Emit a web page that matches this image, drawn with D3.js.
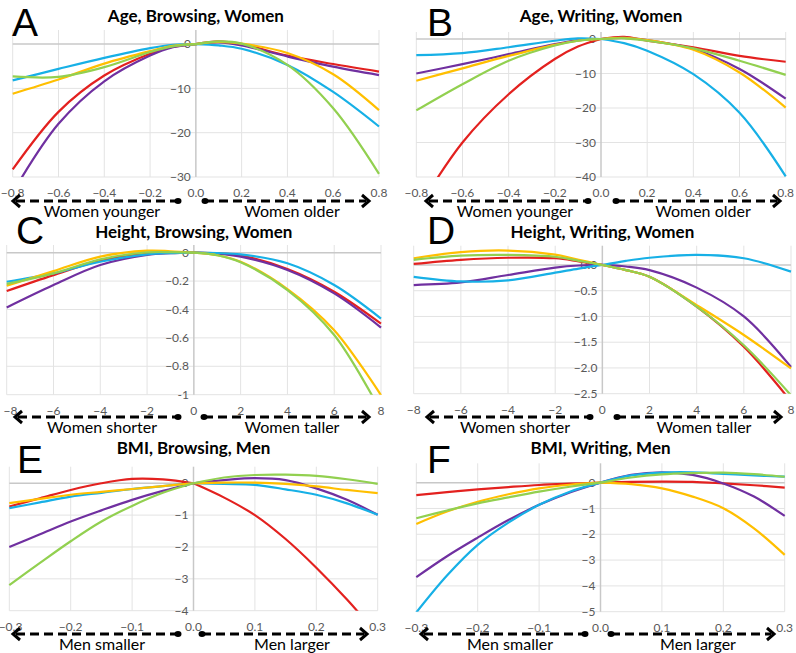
<!DOCTYPE html>
<html><head><meta charset="utf-8">
<script src="https://cdn.jsdelivr.net/npm/d3@7"></script>
<style>
html,body{margin:0;padding:0;background:#fff;}
svg{display:block;}
</style></head>
<body>
<svg id="chart" width="796" height="653"></svg>
<script>
// ---------- DATA ----------
const seriesColors = ["#e3211f", "#7030a0", "#17b0e6", "#ffbf00", "#92d050"]; // red, purple, blue, yellow, green

const panelLetters = ["A", "B", "C", "D", "E", "F"];
const panelTitles = ["Age, Browsing, Women", "Age, Writing, Women", "Height, Browsing, Women",
                     "Height, Writing, Women", "BMI, Browsing, Men", "BMI, Writing, Men"];
const leftLabels = ["Women younger", "Women younger", "Women shorter", "Women shorter", "Men smaller", "Men smaller"];
const rightLabels = ["Women older", "Women older", "Women taller", "Women taller", "Men larger", "Men larger"];

const xTicksAge = [-0.8, -0.6, -0.4, -0.2, 0, 0.2, 0.4, 0.6, 0.8];
const xTicksHeight = [-8, -6, -4, -2, 0, 2, 4, 6, 8];
const xTicksBMI = [-0.3, -0.2, -0.1, 0, 0.1, 0.2, 0.3];
const yTicksA = [0, -10, -20, -30];
const yTicksB = [0, -10, -20, -30, -40];
const yTicksC = [0, -0.2, -0.4, -0.6, -0.8, -1];
const yTicksD = [0, -0.5, -1, -1.5, -2, -2.5];
const yTicksE = [0, -1, -2, -3, -4];
const yTicksF = [0, -1, -2, -3, -4, -5];

const xAge = [-0.8, -0.6, -0.4, -0.2, -0.1, 0, 0.1, 0.2, 0.4, 0.6, 0.8];
const xHeight = [-8, -6, -4, -2, -1, 0, 1, 2, 4, 6, 8];
const xBMI = [-0.3, -0.25, -0.2, -0.15, -0.1, -0.05, 0, 0.05, 0.1, 0.15, 0.2, 0.25, 0.3];

// series in order: red, purple, blue, yellow, green
const valuesA = [
  [-28.3, -15.3, -7.1, -2.2, -0.6, 0, 0.6, 0, -2.6, -4.5, -6.2],
  [-33.5, -18.0, -8.4, -2.6, -0.7, 0, 0.4, -0.3, -2.8, -5.1, -7.0],
  [-8.2, -5.6, -3.1, -0.9, -0.15, 0, -0.3, -1.06, -4.7, -10.8, -18.6],
  [-11.2, -8.0, -4.4, -1.6, -0.4, 0, 0.5, 0.1, -2.0, -6.8, -14.9],
  [-7.3, -7.4, -5.2, -1.8, -0.5, 0, 0.6, 0.1, -4.7, -14.5, -29.3]
];
const valuesB = [
  [-50, -30.0, -16.0, -5.8, -2.2, 0, 0.6, -0.5, -2.4, -4.9, -6.6],
  [-10, -7.3, -4.4, -1.5, -0.4, 0, 0.3, -0.3, -2.9, -8.7, -17.3],
  [-4.7, -4.1, -2.4, -0.5, 0.2, 0, -1.2, -3.4, -10.2, -21.4, -39.8],
  [-12.1, -8.5, -4.9, -1.7, -0.5, 0, 0.3, -0.3, -3.1, -9.7, -19.9],
  [-20.7, -13.1, -6.3, -1.9, -0.5, 0, 0.2, -0.5, -2.7, -6.3, -10.4]
];
const valuesC = [
  [-0.27, -0.158, -0.056, -0.005, 0, 0, -0.005, -0.02, -0.115, -0.275, -0.5],
  [-0.386, -0.228, -0.087, -0.016, -0.004, 0, -0.007, -0.028, -0.122, -0.287, -0.527],
  [-0.205, -0.146, -0.064, -0.012, -0.003, 0, -0.003, -0.012, -0.075, -0.228, -0.464],
  [-0.233, -0.13, -0.028, 0.014, 0.01, 0, -0.018, -0.064, -0.256, -0.546, -1.005],
  [-0.22, -0.146, -0.047, 0.002, 0.004, 0, -0.018, -0.068, -0.263, -0.58, -1.12]
];
const valuesD = [
  [0.02, 0.1, 0.14, 0.13, 0.07, 0, -0.1, -0.23, -0.81, -1.59, -2.65],
  [-0.39, -0.34, -0.195, -0.05, -0.01, 0, -0.03, -0.1, -0.44, -1.0, -1.98],
  [-0.23, -0.32, -0.3, -0.15, -0.07, 0, 0.08, 0.14, 0.195, 0.13, -0.13],
  [0.13, 0.25, 0.28, 0.2, 0.1, 0, -0.1, -0.23, -0.78, -1.36, -2.01],
  [0.1, 0.18, 0.195, 0.16, 0.08, 0, -0.1, -0.23, -0.81, -1.56, -2.53]
];
const valuesE = [
  [-0.73, -0.47, -0.21, 0.0, 0.135, 0.12, 0, -0.45, -1.0, -1.75, -2.65, -3.65, -4.75],
  [-2.0, -1.6, -1.2, -0.85, -0.52, -0.24, 0, 0.1, 0.16, 0.1, -0.16, -0.52, -0.99],
  [-0.78, -0.6, -0.42, -0.3, -0.18, -0.09, 0, -0.02, -0.05, -0.19, -0.36, -0.63, -0.99],
  [-0.625, -0.49, -0.36, -0.27, -0.18, -0.09, 0, 0.02, 0.02, -0.02, -0.1, -0.21, -0.31],
  [-3.2, -2.5, -1.82, -1.2, -0.71, -0.3, 0, 0.18, 0.26, 0.27, 0.23, 0.125, -0.02]
];
const valuesF = [
  [-0.48, -0.37, -0.26, -0.17, -0.09, -0.04, 0, 0.03, 0.04, 0.03, -0.03, -0.1, -0.19],
  [-3.66, -2.85, -2.13, -1.45, -0.86, -0.38, 0, 0.3, 0.4, 0.3, -0.03, -0.54, -1.29],
  [-5.03, -3.6, -2.41, -1.55, -0.86, -0.35, 0, 0.28, 0.39, 0.4, 0.34, 0.28, 0.23],
  [-1.6, -1.12, -0.74, -0.45, -0.22, -0.08, 0, -0.06, -0.22, -0.54, -0.99, -1.77, -2.8],
  [-1.38, -1.08, -0.8, -0.57, -0.35, -0.16, 0, 0.2, 0.32, 0.37, 0.39, 0.33, 0.23]
];

// ---------- LAYOUT ----------
const panels = [
  {xs: xAge, vals: valuesA, xTicks: xTicksAge, yTicks: yTicksA, xFmt: d3.format(".1f"), yFmt: d3.format("d"),
   xDom: [-0.8, 0.8], xR: [12.7, 379], yDom: [-30, 3.18], yR: [177, 30]},
  {xs: xAge, vals: valuesB, xTicks: xTicksAge, yTicks: yTicksB, xFmt: d3.format(".1f"), yFmt: d3.format("d"),
   xDom: [-0.8, 0.8], xR: [416.3, 785.7], yDom: [-40, 2.03], yR: [177, 32]},
  {xs: xHeight, vals: valuesC, xTicks: xTicksHeight, yTicks: yTicksC, xFmt: d3.format("d"), yFmt: v => v === 0 ? "0" : (v === -1 ? "-1" : d3.format(".1f")(v)),
   xDom: [-8, 8], xR: [6.7, 381], yDom: [-1, 0.054], yR: [394.7, 245]},
  {xs: xHeight, vals: valuesD, xTicks: xTicksHeight, yTicks: yTicksD, xFmt: d3.format("d"), yFmt: d3.format(".1f"),
   xDom: [-8, 8], xR: [413.7, 791], yDom: [-2.5, 0.374], yR: [393.7, 245.7]},
  {xs: xBMI, vals: valuesE, xTicks: xTicksBMI, yTicks: yTicksE, xFmt: d3.format(".1f"), yFmt: d3.format("d"),
   xDom: [-0.3, 0.3], xR: [9.3, 377.7], yDom: [-4, 0.52], yR: [610.7, 466.7]},
  {xs: xBMI, vals: valuesF, xTicks: xTicksBMI, yTicks: yTicksF, xFmt: d3.format(".1f"), yFmt: d3.format("d"),
   xDom: [-0.3, 0.3], xR: [416.3, 784.7], yDom: [-5, 0.75], yR: [611.7, 463.3]}
];
const letterPos = [[12, 36], [427, 36], [16, 244], [427, 244], [17, 473], [427, 473]];
const titleY = [22, 22, 238, 238, 454, 454];
const arrowY = [201, 201, 417, 417, 634, 634];
// [left tip, left dot, right dot, right tip]
const arrowX = [[13, 178, 205, 369], [426, 588, 616, 780], [15, 178, 204, 369],
                [427, 590, 617, 781], [13, 178, 202, 367], [421, 585, 611, 774]];
const labelCX = [[102, 292], [515, 703], [102, 292], [515, 704], [102, 292], [510, 698]];

const svg = d3.select("#chart");
const defs = svg.append("defs");
const FONT = "Lato, 'Open Sans', sans-serif";

panels.forEach((p, i) => {
  const x = d3.scaleLinear().domain(p.xDom).range(p.xR);
  const y = d3.scaleLinear().domain(p.yDom).range(p.yR);
  const g = svg.append("g");
  const top = p.yR[1], bot = p.yR[0], left = p.xR[0], right = p.xR[1];
  const x0 = x(0), y0 = y(0);

  // vertical grid
  g.append("g").selectAll("line").data(p.xTicks.filter(d => d !== 0)).join("line")
    .attr("x1", d => x(d)).attr("x2", d => x(d)).attr("y1", top).attr("y2", bot)
    .attr("stroke", "#e3e3e3").attr("stroke-width", 1);
  // horizontal grid
  g.append("g").selectAll("line").data(p.yTicks.filter(d => d !== 0)).join("line")
    .attr("x1", left).attr("x2", right).attr("y1", d => y(d)).attr("y2", d => y(d))
    .attr("stroke", "#e3e3e3").attr("stroke-width", 1);
  // zero axes
  g.append("line").attr("x1", left).attr("x2", right).attr("y1", y0).attr("y2", y0)
    .attr("stroke", "#c8c8c8").attr("stroke-width", 1.5);
  g.append("line").attr("x1", x0).attr("x2", x0).attr("y1", top).attr("y2", bot)
    .attr("stroke", "#c8c8c8").attr("stroke-width", 1.5);

  // y tick labels
  g.append("g").selectAll("text").data(p.yTicks).join("text")
    .attr("x", x0 - 5).attr("y", d => y(d)).attr("dy", "0.35em")
    .attr("text-anchor", "end").attr("font-family", FONT)
    .attr("font-size", 12).attr("fill", "#595959").text(d => p.yFmt(d));
  // x tick labels (kept inside the window at the left edge)
  g.append("g").selectAll("text").data(p.xTicks).join("text")
    .attr("x", d => Math.max(x(d), 10.5)).attr("y", bot + 16).attr("dy", "0.35em")
    .attr("text-anchor", "middle").attr("font-family", FONT)
    .attr("font-size", 12).attr("fill", "#595959").text(d => p.xFmt(d));

  // clip
  const cid = "clip" + i;
  defs.append("clipPath").attr("id", cid).append("rect")
    .attr("x", left - 2).attr("y", top - 2).attr("width", right - left + 4).attr("height", bot - top + 2);

  const line = d3.line().x(d => x(d[0])).y(d => y(d[1])).curve(d3.curveCatmullRom.alpha(0.5));
  const lg = g.append("g").attr("clip-path", `url(#${cid})`);
  p.vals.forEach((vals, si) => {
    const pts = p.xs.map((xv, k) => [xv, vals[k]]);
    const leftPts = pts.filter(d => d[0] <= 0);
    const rightPts = pts.filter(d => d[0] >= 0);
    [leftPts, rightPts].forEach(seg => {
      lg.append("path").attr("d", line(seg)).attr("fill", "none")
        .attr("stroke", seriesColors[si]).attr("stroke-width", 2.2);
    });
  });

  // title & letter
  svg.append("text").attr("x", (left + right) / 2).attr("y", titleY[i])
    .attr("text-anchor", "middle").attr("font-family", FONT)
    .attr("font-weight", "bold").attr("font-size", 17).attr("fill", "#000").text(panelTitles[i]);
  svg.append("text").attr("x", letterPos[i][0]).attr("y", letterPos[i][1])
    .attr("font-family", "Liberation Sans, Arial, sans-serif")
    .attr("font-size", 39).attr("fill", "#000").text(panelLetters[i]);

  // arrows
  const ay = arrowY[i];
  const [lTip, lDot, rDot, rTip] = arrowX[i];
  const ag = svg.append("g").attr("stroke", "#000").attr("fill", "none").attr("stroke-width", 3);
  ag.append("line").attr("x1", lTip + 3).attr("x2", lDot).attr("y1", ay).attr("y2", ay).attr("stroke-dasharray", "9,5");
  ag.append("line").attr("x1", rDot).attr("x2", rTip - 3).attr("y1", ay).attr("y2", ay).attr("stroke-dasharray", "9,5");
  ag.append("path").attr("d", `M${lTip + 7},${ay - 6}L${lTip},${ay}L${lTip + 7},${ay + 6}`).attr("stroke-linejoin", "miter");
  ag.append("path").attr("d", `M${rTip - 7},${ay - 6}L${rTip},${ay}L${rTip - 7},${ay + 6}`).attr("stroke-linejoin", "miter");
  svg.append("ellipse").attr("cx", lDot).attr("cy", ay).attr("rx", 3.5).attr("ry", 3).attr("fill", "#000");
  svg.append("ellipse").attr("cx", rDot).attr("cy", ay).attr("rx", 3.5).attr("ry", 3).attr("fill", "#000");

  // direction labels
  svg.append("text").attr("x", labelCX[i][0]).attr("y", ay + 16)
    .attr("text-anchor", "middle").attr("font-family", FONT)
    .attr("font-size", 16).attr("fill", "#000").text(leftLabels[i]);
  svg.append("text").attr("x", labelCX[i][1]).attr("y", ay + 16)
    .attr("text-anchor", "middle").attr("font-family", FONT)
    .attr("font-size", 16).attr("fill", "#000").text(rightLabels[i]);
});
</script>
</body></html>
